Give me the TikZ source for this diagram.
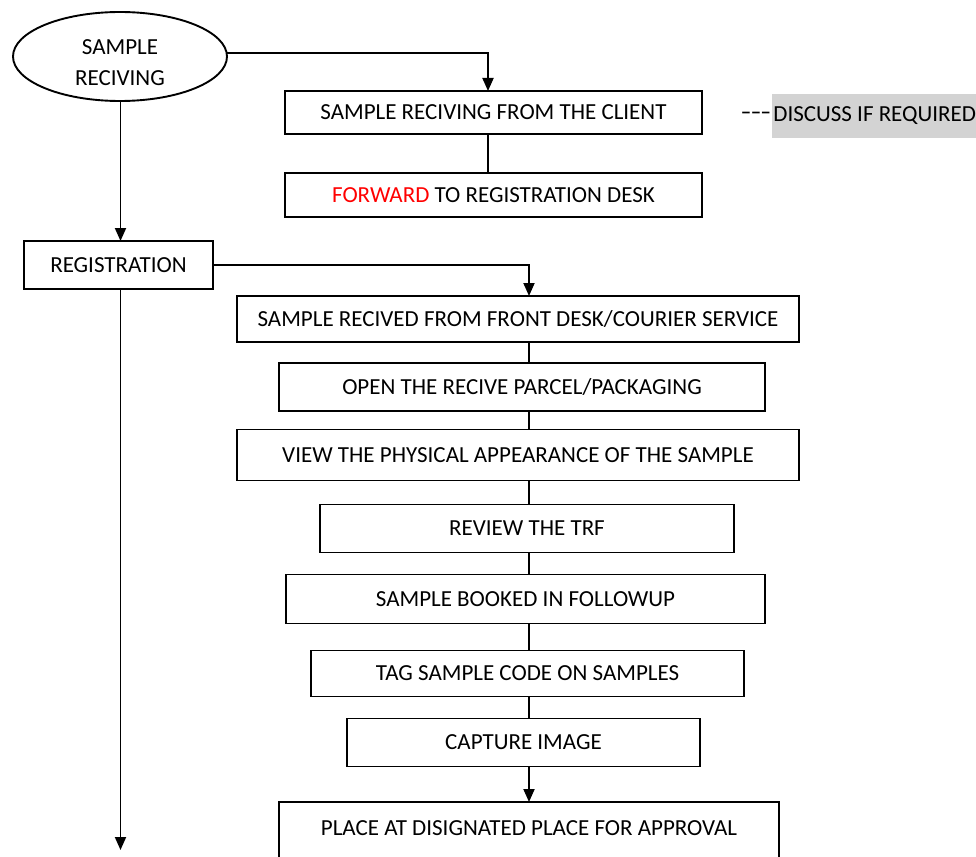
\documentclass[tikz,border=0pt]{standalone}
\usepackage{fontspec}
\usepackage{graphicx}
\setmainfont{Carlito}
\usetikzlibrary{shapes.geometric,arrows.meta}
\definecolor{discussgray}{RGB}{211,211,211}
\definecolor{fwdred}{RGB}{255,0,0}
\tikzset{
  every node/.style={font=\fontsize{23}{31}\selectfont},
  box/.style={draw=black, line width=1.9pt, rectangle, inner sep=0pt, outer sep=0pt, align=center},
  oval/.style={draw=black, line width=1.9pt, ellipse, inner sep=0pt, outer sep=0pt},
  conn/.style={draw=black, line width=1.9pt},
  arr/.style={conn, -{Triangle[width=11pt,length=13pt]}},
}
\begin{document}
\begin{tikzpicture}[x=1pt,y=-1pt]
\useasboundingbox (0,0) rectangle (976,856);
\clip (0,0) rectangle (976,856);
% spines
\coordinate (spine) at (529,0);
\coordinate (tspine) at (488,0);
\coordinate (lspine) at (120.5,0);
\coordinate (lend) at (120.5,850);
% nodes
\node[oval, minimum width=214, minimum height=89] (ell) at (120,56.5) {\raisebox{-14pt}[0pt][0pt]{\begin{tabular}{@{}c@{}}SAMPLE\\RECIVING\end{tabular}}};
\node[box, minimum width=417, minimum height=43] (b1) at (493.5,112.5) {SAMPLE RECIVING FROM THE CLIENT};
\node[box, minimum width=417, minimum height=44] (b2) at (493.5,195) {\textcolor{fwdred}{FORWARD} TO REGISTRATION DESK};
\node[anchor=west, fill=discussgray, inner xsep=0pt, minimum width=205, minimum height=44] (disc) at (772,116) {DISCUSS IF REQUIRED};
\node[anchor=east, inner xsep=1pt] (dash) at (disc.west) {\scalebox{1.4}[1]{-{}-{}-}};
\node[box, minimum width=189, minimum height=48] (reg) at (118.5,265) {REGISTRATION};
\node[box, minimum width=562, minimum height=46] (b3) at (518,319) {SAMPLE RECIVED FROM FRONT DESK/COURIER SERVICE};
\node[box, minimum width=486, minimum height=48] (b4) at (522,387) {OPEN THE RECIVE PARCEL/PACKAGING};
\node[box, minimum width=562, minimum height=51] (b5) at (518,455) {VIEW THE PHYSICAL APPEARANCE OF THE SAMPLE};
\node[box, minimum width=414, minimum height=48] (b6) at (527,528.5) {REVIEW THE TRF};
\node[box, minimum width=479, minimum height=49] (b7) at (525.5,599) {SAMPLE BOOKED IN FOLLOWUP};
\node[box, minimum width=433, minimum height=46] (b8) at (527.5,673.5) {TAG SAMPLE CODE ON SAMPLES};
\node[box, minimum width=353, minimum height=48] (b9) at (523.5,742.5) {CAPTURE IMAGE};
\node[box, anchor=north, minimum width=500, text height=33pt, text depth=70pt] (b10) at (529,802) {PLACE AT DISIGNATED PLACE FOR APPROVAL};
% connectors
\draw[arr] (ell.east |- 0,53) -| (b1.north -| tspine);
\draw[conn] (b1.south -| tspine) -- (b2.north -| tspine);
\draw[arr] (ell.south -| lspine) -- (reg.north -| lspine);
\draw[arr] (reg.south -| lspine) -- (lend);
\draw[arr] (reg.east) -| (b3.north -| spine);
\draw[conn] (b3.south -| spine) -- (b4.north -| spine);
\draw[conn] (b4.south -| spine) -- (b5.north -| spine);
\draw[conn] (b5.south -| spine) -- (b6.north -| spine);
\draw[conn] (b6.south -| spine) -- (b7.north -| spine);
\draw[conn] (b7.south -| spine) -- (b8.north -| spine);
\draw[conn] (b8.south -| spine) -- (b9.north -| spine);
\draw[arr] (b9.south -| spine) -- (b10.north -| spine);
\end{tikzpicture}
\end{document}
